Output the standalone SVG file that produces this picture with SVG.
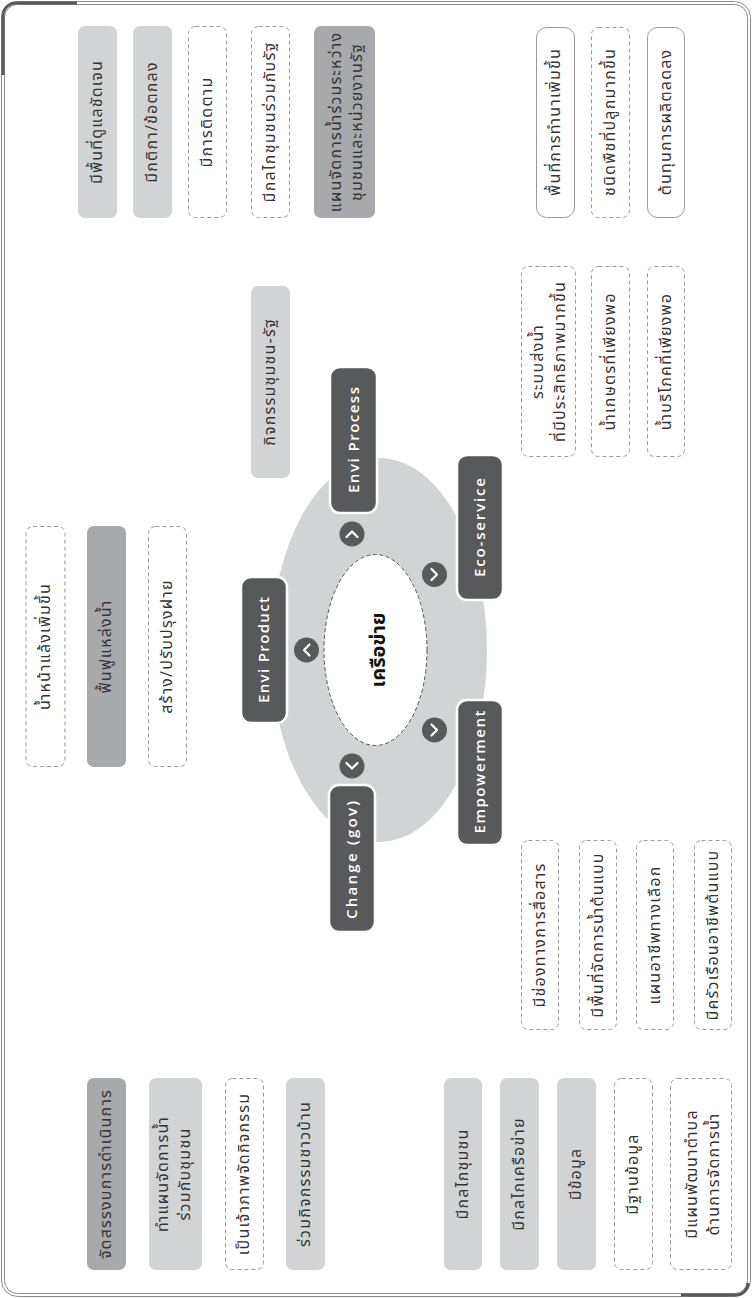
<svg xmlns="http://www.w3.org/2000/svg" width="752" height="1298" viewBox="0 0 752 1298">
<style>
.t{font-family:"Noto Sans Thai","Noto Sans","DejaVu Sans",sans-serif;font-size:16px;letter-spacing:1.2px;fill:#333;text-anchor:middle}
.n{font-family:"Open Sans","Noto Sans",sans-serif;font-size:15px;font-weight:600;fill:#fff;text-anchor:middle}
.lg{fill:#d1d3d4}
.mg{fill:#a7a9ac}
.ds{fill:#fff;stroke:#9a9a9a;stroke-width:1;stroke-dasharray:4 3}
.sl{fill:#fff;stroke:#9a9a9a;stroke-width:1}
.nd{fill:#58595b;stroke:#fff;stroke-width:2.5}
.cc{fill:#58595b}
.cv{fill:none;stroke:#fff;stroke-width:2.2;stroke-linecap:round;stroke-linejoin:round}
</style>
<rect x="0" y="0" width="752" height="1298" fill="#fff"/>
<g id="frame" fill="none">
<rect x="1.5" y="1.5" width="749" height="1295" rx="16" stroke="#8a8a8a" stroke-width="1"/>
<rect x="4.5" y="4.5" width="743" height="1289" rx="13" stroke="#8a8a8a" stroke-width="1"/>
<path d="M3,75 V16 A13,13 0 0 1 16,3 H77" stroke="#58595b" stroke-width="3"/>
<path d="M681,1295 H736 A12,12 0 0 0 748,1283" stroke="#58595b" stroke-width="3"/>
</g>
<g id="ring">
<ellipse cx="379" cy="650" rx="108" ry="192" fill="#d1d3d4"/>
</g>
<g id="network">
<ellipse cx="375.5" cy="650" rx="51.5" ry="95.5" fill="#fff" stroke="#555" stroke-width="1" stroke-dasharray="4 2.5"/>
<text transform="translate(385,650) rotate(-90)" style="font-family:'Noto Sans Thai','Noto Sans',sans-serif;font-size:20px;font-weight:700;fill:#111;text-anchor:middle">เครือข่าย</text>
</g>
<g id="connectors">
<circle class="cc" cx="352" cy="534" r="12.5"/><polyline class="cv" points="346.5,537 352,531.5 357.5,537"/>
<circle class="cc" cx="434.5" cy="574.5" r="12.5"/><polyline class="cv" points="431.5,569 437,574.5 431.5,580"/>
<circle class="cc" cx="306.5" cy="650" r="12.5"/><polyline class="cv" points="309.5,644.5 304,650 309.5,655.5"/>
<circle class="cc" cx="434.5" cy="730" r="12.5"/><polyline class="cv" points="431.5,724.5 437,730 431.5,735.5"/>
<circle class="cc" cx="352" cy="766" r="12.5"/><polyline class="cv" points="346.5,763 352,768.5 357.5,763"/>
</g>
<g id="envi-process"><rect class="nd" x="330" y="367" width="47" height="146" rx="10"/><text class="n" transform="translate(358.5,440) rotate(-90)" textLength="106" lengthAdjust="spacing">Envi Process</text></g>
<g id="eco-service"><rect class="nd" x="457" y="455" width="46" height="145" rx="10"/><text class="n" transform="translate(485,527.5) rotate(-90)" textLength="99" lengthAdjust="spacing">Eco-service</text></g>
<g id="envi-product"><rect class="nd" x="241" y="577" width="46" height="146" rx="10"/><text class="n" transform="translate(269,650) rotate(-90)" textLength="106" lengthAdjust="spacing">Envi Product</text></g>
<g id="empowerment"><rect class="nd" x="457" y="700" width="46" height="145" rx="10"/><text class="n" transform="translate(485,772) rotate(-90)" textLength="123" lengthAdjust="spacing">Empowerment</text></g>
<g id="change-gov"><rect class="nd" x="329" y="785" width="46" height="147" rx="10"/><text class="n" transform="translate(357,860) rotate(-90)" textLength="118" lengthAdjust="spacing">Change (gov)</text></g>

<g id="a1"><rect class="lg" x="78" y="26" width="39" height="192" rx="7"/><text class="t" transform="translate(102,122) rotate(-90)">มีพื้นที่ดูแลชัดเจน</text></g>
<g id="a2"><rect class="lg" x="133" y="26" width="39" height="192" rx="7"/><text class="t" transform="translate(157,122) rotate(-90)">มีกติกา/ข้อตกลง</text></g>
<g id="a3"><rect class="ds" x="188.5" y="26.5" width="38" height="191" rx="7"/><text class="t" transform="translate(212,122) rotate(-90)">มีการติดตาม</text></g>
<g id="a4"><rect class="ds" x="251.5" y="26.5" width="38" height="191" rx="7"/><text class="t" transform="translate(275,122) rotate(-90)">มีกลไกชุมชนร่วมกับรัฐ</text></g>
<g id="a5"><rect class="mg" x="314" y="26" width="61" height="192" rx="7"/><text class="t" transform="translate(341,122) rotate(-90)">แผนจัดการน้ำร่วมระหว่าง</text><text class="t" transform="translate(362,122) rotate(-90)">ชุมชนและหน่วยงานรัฐ</text></g>

<g id="b1"><rect class="sl" x="536.5" y="27.5" width="38" height="190" rx="10"/><text class="t" transform="translate(560,122) rotate(-90)">พื้นที่การทำนาเพิ่มขึ้น</text></g>
<g id="b2"><rect class="ds" x="591.5" y="27.5" width="38" height="190" rx="7"/><text class="t" transform="translate(615,122) rotate(-90)">ชนิดพืชที่ปลูกมากขึ้น</text></g>
<g id="b3"><rect class="sl" x="647.5" y="27.5" width="37" height="190" rx="10"/><text class="t" transform="translate(670.5,122) rotate(-90)">ต้นทุนการผลิตลดลง</text></g>

<g id="c1"><rect class="lg" x="251" y="286" width="39" height="192" rx="7"/><text class="t" transform="translate(275,382) rotate(-90)">กิจกรรมชุมชน-รัฐ</text></g>
<g id="c2"><rect class="ds" x="521.5" y="266.5" width="54" height="190" rx="7"/><text class="t" transform="translate(543,361.5) rotate(-90)">ระบบส่งน้ำ</text><text class="t" transform="translate(565,361.5) rotate(-90)">ที่มีประสิทธิภาพมากขึ้น</text></g>
<g id="c3"><rect class="ds" x="591.5" y="266.5" width="38" height="190" rx="7"/><text class="t" transform="translate(615,361.5) rotate(-90)">น้ำเกษตรที่เพียงพอ</text></g>
<g id="c4"><rect class="ds" x="647.5" y="266.5" width="37" height="190" rx="7"/><text class="t" transform="translate(670.5,361.5) rotate(-90)">น้ำบริโภคที่เพียงพอ</text></g>

<g id="d1"><rect class="ds" x="26" y="526.5" width="39" height="240" rx="7"/><text class="t" transform="translate(49.5,646.5) rotate(-90)">น้ำหน้าแล้งเพิ่มขึ้น</text></g>
<g id="d2"><rect class="mg" x="87" y="526" width="39" height="241" rx="7"/><text class="t" transform="translate(111,646.5) rotate(-90)">ฟื้นฟูแหล่งน้ำ</text></g>
<g id="d3"><rect class="ds" x="148.5" y="526.5" width="38" height="240" rx="7"/><text class="t" transform="translate(172,646.5) rotate(-90)">สร้าง/ปรับปรุงฝาย</text></g>

<g id="e1"><rect class="ds" x="521.5" y="840.5" width="37" height="189" rx="7"/><text class="t" transform="translate(544.5,935) rotate(-90)">มีช่องทางการสื่อสาร</text></g>
<g id="e2"><rect class="ds" x="579.5" y="840.5" width="37" height="189" rx="7"/><text class="t" transform="translate(602.5,935) rotate(-90)">มีพื้นที่จัดการน้ำต้นแบบ</text></g>
<g id="e3"><rect class="ds" x="636.5" y="840.5" width="37" height="189" rx="7"/><text class="t" transform="translate(659.5,935) rotate(-90)">แผนอาชีพทางเลือก</text></g>
<g id="e4"><rect class="ds" x="694.5" y="840.5" width="37" height="189" rx="7"/><text class="t" transform="translate(717.5,935) rotate(-90)">มีครัวเรือนอาชีพต้นแบบ</text></g>

<g id="f1"><rect class="mg" x="87" y="1078" width="39" height="192" rx="7"/><text class="t" transform="translate(111,1174) rotate(-90)">จัดสรรงบการดำเนินการ</text></g>
<g id="f2"><rect class="lg" x="149" y="1078" width="53" height="192" rx="7"/><text class="t" transform="translate(168,1174) rotate(-90)">ทำแผนจัดการน้ำ</text><text class="t" transform="translate(190,1174) rotate(-90)">ร่วมกับชุมชน</text></g>
<g id="f3"><rect class="ds" x="225.5" y="1078.5" width="38" height="191" rx="7"/><text class="t" transform="translate(249,1174) rotate(-90)">เป็นเจ้าภาพจัดกิจกรรม</text></g>
<g id="f4"><rect class="lg" x="286" y="1078" width="39" height="192" rx="7"/><text class="t" transform="translate(310,1174) rotate(-90)">ร่วมกิจกรรมชาวบ้าน</text></g>

<g id="g1"><rect class="lg" x="444" y="1078" width="38" height="192" rx="7"/><text class="t" transform="translate(467.5,1174) rotate(-90)">มีกลไกชุมชน</text></g>
<g id="g2"><rect class="lg" x="500" y="1078" width="39" height="192" rx="7"/><text class="t" transform="translate(524,1174) rotate(-90)">มีกลไกเครือข่าย</text></g>
<g id="g3"><rect class="lg" x="557" y="1078" width="39" height="192" rx="7"/><text class="t" transform="translate(581,1174) rotate(-90)">มีข้อมูล</text></g>
<g id="g4"><rect class="ds" x="614.5" y="1078.5" width="38" height="191" rx="7"/><text class="t" transform="translate(638,1174) rotate(-90)">มีฐานข้อมูล</text></g>
<g id="g5"><rect class="ds" x="670.5" y="1078.5" width="61" height="191" rx="7"/><text class="t" transform="translate(697,1174) rotate(-90)">มีแผนพัฒนาตำบล</text><text class="t" transform="translate(719,1174) rotate(-90)">ด้านการจัดการน้ำ</text></g>
</svg>
